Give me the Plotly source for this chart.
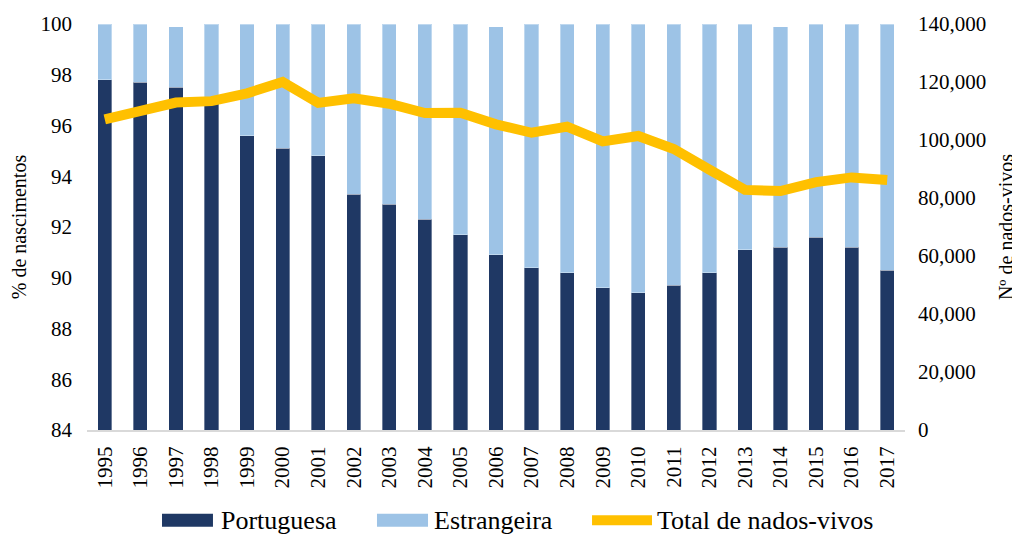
import plotly.graph_objects as go

years = [str(y) for y in range(1995, 2018)]
portuguesa = [97.8, 97.7, 97.5, 97.0, 95.6, 95.1, 94.8, 93.3, 92.9, 92.3, 91.7, 90.9,
              90.4, 90.2, 89.6, 89.4, 89.7, 90.2, 91.1, 91.2, 91.6, 91.2, 90.3]
estrangeira = [2.2, 2.3, 2.4, 3.0, 4.4, 4.9, 5.2, 6.7, 7.1, 7.7, 8.3, 9.0,
               9.6, 9.8, 10.4, 10.6, 10.3, 9.8, 8.9, 8.7, 8.4, 8.8, 9.7]
total = [107100, 110300, 112900, 113400, 116100, 120000, 112800, 114400, 112500,
         109300, 109400, 105400, 102500, 104600, 99500, 101400, 96900, 89800,
         82800, 82400, 85500, 87100, 86200]

series_names = ["Portuguesa", "Estrangeira", "Total de nados-vivos"]
COL_PT = "#1F3864"
COL_ES = "#9DC3E6"
COL_TOT = "#FFC000"
FONT = "Liberation Serif"

fig = go.Figure()
fig.add_trace(go.Bar(x=years, y=portuguesa, name=series_names[0],
                     marker=dict(color=COL_PT, line=dict(color="rgba(255,255,255,0.35)", width=1))))
fig.add_trace(go.Bar(x=years, y=estrangeira, name=series_names[1],
                     marker=dict(color=COL_ES, line=dict(color="rgba(255,255,255,0.35)", width=1))))
fig.add_trace(go.Scatter(x=years, y=total, name=series_names[2], yaxis="y2",
                         mode="lines", line=dict(color=COL_TOT, width=10)))

# Excel-style legend below the plot (wide swatches), in paper coordinates
leg_y = -0.222
legend_items = [
    dict(kind="rect", color=COL_PT, x0=0.0917, x1=0.154, tx=0.1614),
    dict(kind="rect", color=COL_ES, x0=0.3545, x1=0.4169, tx=0.4218),
    dict(kind="line", color=COL_TOT, x0=0.6174, x1=0.6907, tx=0.6944),
]
for name, it in zip(series_names, legend_items):
    if it["kind"] == "rect":
        fig.add_shape(type="rect", xref="paper", yref="paper",
                      x0=it["x0"], x1=it["x1"], y0=leg_y - 0.016, y1=leg_y + 0.016,
                      fillcolor=it["color"], line=dict(width=0))
    else:
        fig.add_shape(type="line", xref="paper", yref="paper",
                      x0=it["x0"], x1=it["x1"], y0=leg_y, y1=leg_y,
                      line=dict(color=it["color"], width=10))
    fig.add_annotation(text=name, xref="paper", yref="paper", x=it["tx"], y=leg_y,
                       xanchor="left", yanchor="middle", showarrow=False,
                       font=dict(family=FONT, size=26, color="black"))

fig.update_layout(
    width=1020, height=536,
    margin=dict(l=79, r=123, t=16, b=114, autoexpand=False),
    plot_bgcolor="white", paper_bgcolor="white",
    barmode="stack", bargap=0.6, showlegend=False,
    font=dict(family=FONT, size=21, color="black"),
    xaxis=dict(tickangle=-90, showgrid=False, showline=True, linecolor="#D9D9D9", linewidth=2,
               ticks="", tickfont=dict(size=21), ticklabelstandoff=6),
    yaxis=dict(range=[84, 100], dtick=2, showgrid=False, zeroline=False, ticks="",
               title=dict(text="% de nascimentos", font=dict(size=20), standoff=12),
               tickfont=dict(size=21), ticklabelstandoff=14),
    yaxis2=dict(range=[0, 140000], dtick=20000, overlaying="y", side="right",
                showgrid=False, zeroline=False, ticks="", tickformat=",",
                title=dict(text="Nº de nados-vivos", font=dict(size=20), standoff=13),
                tickfont=dict(size=21), ticklabelstandoff=12),
)

fig.write_html("out.html")
